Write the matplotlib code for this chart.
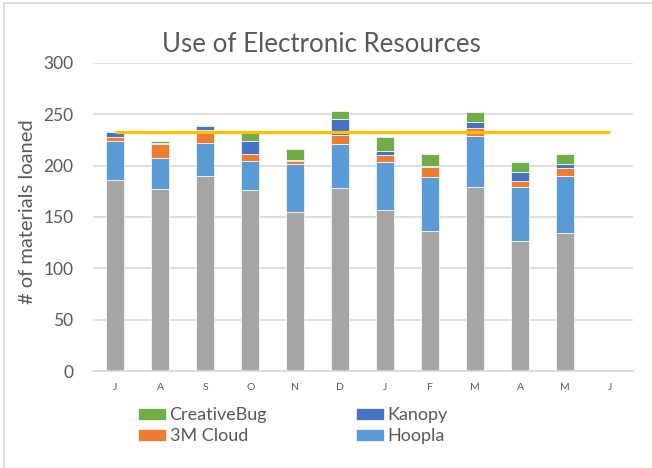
import matplotlib
matplotlib.use("Agg")
import matplotlib.pyplot as plt
from matplotlib.lines import Line2D
import numpy as np

plt.rcParams['font.family'] = ['Lato', 'DejaVu Sans']

months = ['J', 'A', 'S', 'O', 'N', 'D', 'J', 'F', 'M', 'A', 'M', 'J']
overdrive = [186, 177, 190, 176, 155, 178, 157, 136, 179, 127, 134]
hoopla = [38, 30, 32, 29, 47, 43, 47, 53, 50, 52, 56]
cloud3m = [4, 14, 13, 6, 2.5, 9, 6, 10, 8, 6.5, 8]
kanopy = [5, 1, 4, 13, 1, 15, 4, 1, 6, 8, 4]
creativebug = [1, 2, 1, 8, 11, 8, 14, 11, 9, 10, 9]
goal = [233, 233, 233, 233, 233, 233, 233, 233, 233, 233, 233, 233]

W, H = 652, 468
fig = plt.figure(figsize=(W / 100, H / 100), dpi=100)
fig.patch.set_facecolor('white')

ax_l, ax_r, ax_t, ax_b = 92.7, 632.9, 63, 371
ax = fig.add_axes([ax_l / W, 1 - ax_b / H, (ax_r - ax_l) / W, (ax_b - ax_t) / H])

text_col = '#595959'
grid_col = '#D9D9D9'

series = [
    ('_Overdrive', overdrive, '#A5A5A5'),
    ('Hoopla', hoopla, '#5B9BD5'),
    ('3M Cloud', cloud3m, '#ED7D31'),
    ('Kanopy', kanopy, '#4472C4'),
    ('CreativeBug', creativebug, '#70AD47'),
]
x = np.arange(len(overdrive))
bottom = np.zeros(len(overdrive))
handles = {}
for name, vals, col in series:
    v = np.array(vals, dtype=float)
    b = ax.bar(x, v, 0.4, bottom=bottom, color=col, edgecolor='white',
               linewidth=0.5, label=name, zorder=2)
    handles[name] = b
    bottom += v

ax.plot(np.arange(len(months)), goal, color='#FFC000', lw=2.3, zorder=4,
        solid_capstyle='butt')

ax.set_xlim(-0.5, len(months) - 0.5)
ax.set_ylim(0, 300)
ax.set_yticks(range(0, 301, 50))
ax.set_xticks(np.arange(len(months)))
ax.set_xticklabels(months)
ax.yaxis.grid(True, color=grid_col, lw=1.2, zorder=0)
ax.set_axisbelow(True)
for s in ['top', 'right', 'left']:
    ax.spines[s].set_visible(False)
ax.spines['bottom'].set_color(grid_col)
ax.spines['bottom'].set_linewidth(1.2)
ax.tick_params(axis='y', length=0, pad=14, labelsize=12.5, labelcolor=text_col)
ax.tick_params(axis='x', length=0, pad=9, labelsize=7.5, labelcolor=text_col)

fig.text(321.5 / W, 1 - 45 / H, 'Use of Electronic Resources', ha='center',
         va='center', fontsize=18.6, color=text_col)
fig.text(28 / W, 1 - 212 / H, '# of materials loaned', ha='center',
         va='center', rotation=90, fontsize=14.5, color=text_col)

order = ['CreativeBug', '3M Cloud', 'Kanopy', 'Hoopla']
leg = fig.legend([handles[n] for n in order], order, ncol=2,
                 loc='upper left', bbox_to_anchor=(138 / W, 1 - 407 / H),
                 frameon=False, fontsize=13, handlelength=1.55,
                 handleheight=0.67, handletextpad=0.2, columnspacing=4.9,
                 labelspacing=0.3, borderpad=0, borderaxespad=0)
for t in leg.get_texts():
    t.set_color(text_col)

# chart frame (top and left edges visible)
fig.add_artist(Line2D([4 / W, 1], [1 - 3 / H, 1 - 3 / H], color=grid_col, lw=1.2))
fig.add_artist(Line2D([4 / W, 4 / W], [0, 1 - 3 / H], color=grid_col, lw=1.2))

fig.savefig('out.png', dpi=100)
